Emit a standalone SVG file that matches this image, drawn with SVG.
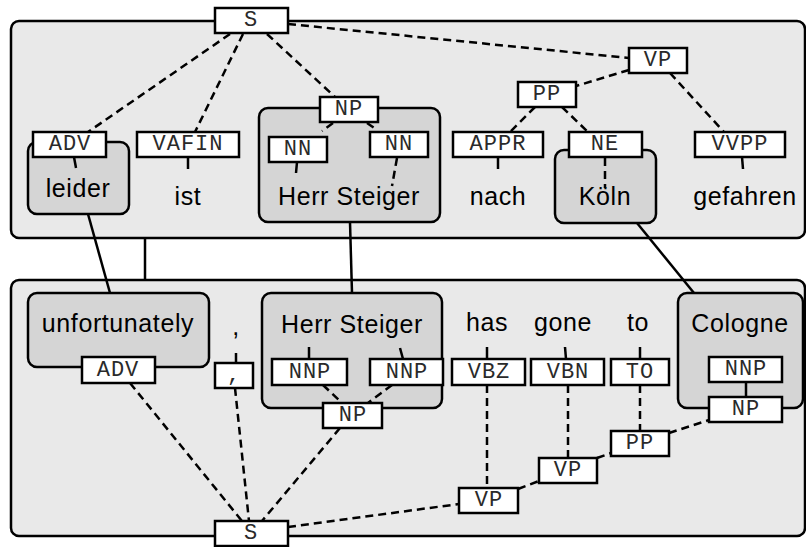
<svg xmlns="http://www.w3.org/2000/svg" width="806" height="547" viewBox="0 0 806 547">
<style>
.panel{fill:#e9e9e9;stroke:#000;stroke-width:2.5}
.grp{fill:#d5d5d5;stroke:#000;stroke-width:2.5}
.tag{fill:#fff;stroke:#000;stroke-width:2.5}
.tt{font-family:"Liberation Mono","Courier New",monospace;font-size:22px;letter-spacing:1px;text-anchor:middle;fill:#2a2a2a}
.w{font-family:"Liberation Sans",Arial,Helvetica,sans-serif;font-size:25px;letter-spacing:0.6px;text-anchor:middle;fill:#000}
.d{stroke:#000;stroke-width:2.5;stroke-dasharray:8 5;fill:none}
.s{stroke:#000;stroke-width:2.5;fill:none}
</style>
<rect id="panel-de" class="panel" x="11" y="21" width="794" height="217" rx="8"/>
<rect id="panel-en" class="panel" x="11" y="280" width="794" height="256" rx="8"/>

<!-- German nodes -->
<g id="de-leider">
<rect class="grp" x="28" y="142" width="101" height="72" rx="9"/>
<text class="w" x="78" y="197">leider</text>
<rect class="tag" x="33" y="132" width="73" height="25"/>
<text class="tt" x="70" y="150">ADV</text>
<line class="s" x1="74" y1="157" x2="76" y2="168"/>
</g>
<g id="de-ist">
<rect class="tag" x="137" y="132" width="102" height="25"/>
<text class="tt" x="188" y="150">VAFIN</text>
<line class="s" x1="188" y1="157" x2="188" y2="169"/>
<text class="w" x="188" y="205">ist</text>
</g>
<g id="de-herr-steiger">
<rect class="grp" x="259" y="108" width="181" height="114" rx="9"/>
<text class="w" x="349" y="205">Herr Steiger</text>
<rect class="tag" x="269" y="137" width="58" height="25"/>
<text class="tt" x="298" y="155">NN</text>
<line class="s" x1="297" y1="162" x2="296" y2="173"/>
<rect class="tag" x="370" y="132" width="58" height="25"/>
<text class="tt" x="399" y="150">NN</text>
<line class="d" x1="397" y1="158" x2="392" y2="186"/>
<rect class="tag" x="320" y="97" width="58" height="25"/>
<text class="tt" x="349" y="115">NP</text>
</g>
<g id="de-nach">
<rect class="tag" x="453" y="132" width="90" height="25"/>
<text class="tt" x="498" y="150">APPR</text>
<line class="s" x1="498" y1="157" x2="498" y2="169"/>
<text class="w" x="498" y="205">nach</text>
</g>
<g id="de-koeln">
<rect class="grp" x="555" y="150" width="101" height="73" rx="9"/>
<text class="w" x="605" y="205">Köln</text>
<rect class="tag" x="569" y="132" width="73" height="25"/>
<text class="tt" x="605" y="150">NE</text>
<line class="d" x1="605" y1="158" x2="605" y2="188"/>
</g>
<g id="de-gefahren">
<rect class="tag" x="695" y="132" width="90" height="25"/>
<text class="tt" x="740" y="150">VVPP</text>
<line class="s" x1="742" y1="157" x2="743" y2="169"/>
<text class="w" x="745" y="205">gefahren</text>
</g>
<g id="de-S">
<rect class="tag" x="215" y="8" width="73" height="25"/>
<text class="tt" x="251" y="26">S</text>
</g>
<g id="de-VP">
<rect class="tag" x="629" y="48" width="58" height="25"/>
<text class="tt" x="658" y="66">VP</text>
</g>
<g id="de-PP">
<rect class="tag" x="518" y="82" width="58" height="25"/>
<text class="tt" x="547" y="100">PP</text>
</g>

<!-- English nodes -->
<g id="en-unfortunately">
<rect class="grp" x="28" y="293" width="181" height="74" rx="9"/>
<text class="w" x="118" y="332">unfortunately</text>
<rect class="tag" x="82" y="357" width="73" height="26"/>
<text class="tt" x="118" y="376">ADV</text>
</g>
<g id="en-comma">
<text class="w" x="236" y="335">,</text>
<line class="s" x1="236" y1="353" x2="236" y2="362"/>
<rect class="tag" x="215" y="363" width="38" height="25"/>
<text class="tt" x="234" y="381">,</text>
</g>
<g id="en-herr-steiger">
<rect class="grp" x="262" y="293" width="180" height="115" rx="9"/>
<text class="w" x="352" y="333">Herr Steiger</text>
<line class="s" x1="309" y1="347" x2="309" y2="359"/>
<line class="s" x1="400" y1="348" x2="403" y2="359"/>
<rect class="tag" x="272" y="359" width="75" height="26"/>
<text class="tt" x="310" y="378">NNP</text>
<rect class="tag" x="370" y="359" width="73" height="26"/>
<text class="tt" x="407" y="378">NNP</text>
<rect class="tag" x="323" y="403" width="59" height="25"/>
<text class="tt" x="353" y="421">NP</text>
</g>
<g id="en-has">
<text class="w" x="487" y="331">has</text>
<line class="s" x1="487" y1="347" x2="487" y2="359"/>
<rect class="tag" x="452" y="359" width="73" height="26"/>
<text class="tt" x="489" y="378">VBZ</text>
</g>
<g id="en-gone">
<text class="w" x="563" y="331">gone</text>
<line class="s" x1="565" y1="347" x2="566" y2="359"/>
<rect class="tag" x="531" y="359" width="73" height="26"/>
<text class="tt" x="568" y="378">VBN</text>
</g>
<g id="en-to">
<text class="w" x="638" y="331">to</text>
<line class="s" x1="640" y1="347" x2="640" y2="359"/>
<rect class="tag" x="611" y="359" width="58" height="26"/>
<text class="tt" x="640" y="378">TO</text>
</g>
<g id="en-cologne">
<rect class="grp" x="678" y="293" width="125" height="115" rx="9"/>
<text class="w" x="740" y="332">Cologne</text>
<line class="s" x1="746" y1="382" x2="746" y2="397"/>
<rect class="tag" x="709" y="357" width="73" height="25"/>
<text class="tt" x="746" y="375">NNP</text>
<rect class="tag" x="709" y="397" width="73" height="25"/>
<text class="tt" x="746" y="415">NP</text>
</g>
<g id="en-PP">
<rect class="tag" x="611" y="431" width="58" height="25"/>
<text class="tt" x="640" y="449">PP</text>
</g>
<g id="en-VP-mid">
<rect class="tag" x="539" y="458" width="58" height="25"/>
<text class="tt" x="568" y="476">VP</text>
</g>
<g id="en-VP-low">
<rect class="tag" x="459" y="488" width="59" height="25"/>
<text class="tt" x="489" y="506">VP</text>
</g>
<g id="en-S">
<rect class="tag" x="215" y="521" width="73" height="25"/>
<text class="tt" x="251" y="539">S</text>
</g>

<g id="connectors">
<!-- German tree -->
<line class="d" x1="230" y1="34" x2="88" y2="132"/>
<line class="d" x1="243" y1="34" x2="195" y2="132"/>
<line class="d" x1="267" y1="34" x2="335" y2="97"/>
<line class="d" x1="288" y1="24" x2="629" y2="58"/>
<line class="d" x1="629" y1="70" x2="576" y2="86"/>
<line class="d" x1="670" y1="73" x2="724" y2="132"/>
<line class="d" x1="535" y1="107" x2="510" y2="132"/>
<line class="d" x1="562" y1="107" x2="588" y2="132"/>
<line class="d" x1="333" y1="123" x2="322" y2="131"/>
<line class="d" x1="367" y1="123" x2="377" y2="130"/>
<!-- alignment links -->
<line class="s" x1="88" y1="214" x2="110" y2="293"/>
<line class="s" x1="145" y1="238" x2="145" y2="280"/>
<line class="s" x1="350" y1="222" x2="352" y2="293"/>
<line class="s" x1="637" y1="223" x2="694" y2="293"/>
<!-- English tree -->
<line class="d" x1="130" y1="383" x2="242" y2="521"/>
<line class="d" x1="235" y1="388" x2="249" y2="521"/>
<line class="d" x1="340" y1="428" x2="262" y2="521"/>
<line class="d" x1="288" y1="527" x2="459" y2="504"/>
<line class="d" x1="487" y1="385" x2="487" y2="488"/>
<line class="d" x1="568" y1="385" x2="568" y2="458"/>
<line class="d" x1="640" y1="385" x2="640" y2="431"/>
<line class="d" x1="518" y1="489" x2="539" y2="481"/>
<line class="d" x1="597" y1="458" x2="611" y2="453"/>
<line class="d" x1="669" y1="433" x2="709" y2="420"/>
<line class="d" x1="323" y1="385" x2="342" y2="403"/>
<line class="d" x1="392" y1="385" x2="368" y2="403"/>
</g>
</svg>
